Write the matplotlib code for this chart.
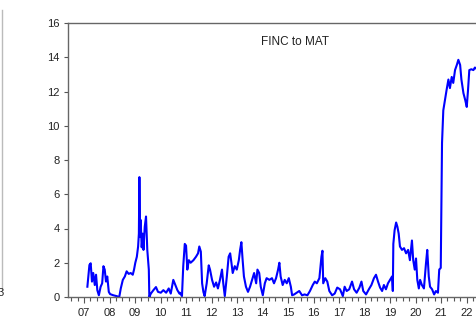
import matplotlib
matplotlib.use("Agg")
import matplotlib.pyplot as plt
from matplotlib.ticker import FixedLocator, MultipleLocator
from matplotlib.lines import Line2D

plt.rcParams['font.family'] = ['Liberation Sans', 'DejaVu Sans']

# Serie FINC -> MAT (fecha en años decimales, valor del índice)
fechas = [
    2007.13, 2007.21, 2007.26, 2007.31, 2007.36, 2007.42, 2007.47, 2007.52, 2007.58, 2007.65,
    2007.71, 2007.76, 2007.81, 2007.86, 2007.91, 2007.97, 2008.02, 2008.15, 2008.28, 2008.38,
    2008.44, 2008.52, 2008.60, 2008.67, 2008.75, 2008.83, 2008.91, 2008.96, 2009.01, 2009.07,
    2009.12, 2009.15, 2009.17, 2009.20, 2009.22, 2009.26, 2009.30, 2009.33, 2009.38, 2009.43,
    2009.48, 2009.54, 2009.56, 2009.62, 2009.72, 2009.82, 2009.90, 2010.01, 2010.11, 2010.22,
    2010.32, 2010.40, 2010.50, 2010.58, 2010.66, 2010.74, 2010.76, 2010.84, 2010.89, 2010.95,
    2011.00, 2011.05, 2011.11, 2011.18, 2011.29, 2011.39, 2011.47, 2011.52, 2011.58, 2011.63,
    2011.68, 2011.73, 2011.81, 2011.89, 2011.94, 2012.02, 2012.10, 2012.18, 2012.25, 2012.33,
    2012.41, 2012.46, 2012.52, 2012.60, 2012.67, 2012.73, 2012.78, 2012.83, 2012.91, 2012.99,
    2013.07, 2013.12, 2013.17, 2013.22, 2013.27, 2013.35, 2013.43, 2013.51, 2013.59, 2013.67,
    2013.75, 2013.80, 2013.87, 2013.93, 2014.01, 2014.09, 2014.16, 2014.27, 2014.37, 2014.45,
    2014.53, 2014.61, 2014.66, 2014.71, 2014.79, 2014.87, 2014.95, 2015.03, 2015.11, 2015.16,
    2015.24, 2015.34, 2015.44, 2015.55, 2015.65, 2015.76, 2015.86, 2015.97, 2016.05, 2016.13,
    2016.23, 2016.31, 2016.35, 2016.38, 2016.46, 2016.54, 2016.62, 2016.73, 2016.83, 2016.93,
    2017.04, 2017.15, 2017.22, 2017.30, 2017.40, 2017.51, 2017.59, 2017.69, 2017.80, 2017.88,
    2017.95, 2018.06, 2018.17, 2018.27, 2018.37, 2018.45, 2018.53, 2018.61, 2018.69, 2018.76,
    2018.84, 2018.92, 2019.00, 2019.08, 2019.11, 2019.13, 2019.18, 2019.24, 2019.29, 2019.34,
    2019.39, 2019.47, 2019.55, 2019.63, 2019.71, 2019.78, 2019.86, 2019.91, 2019.97, 2020.02,
    2020.07, 2020.13, 2020.18, 2020.25, 2020.33, 2020.41, 2020.46, 2020.52, 2020.57, 2020.65,
    2020.73, 2020.80, 2020.88, 2020.93, 2020.99, 2021.01, 2021.04, 2021.09, 2021.22, 2021.29,
    2021.35, 2021.42, 2021.48, 2021.55, 2021.62, 2021.68, 2021.75, 2021.80, 2021.88, 2021.95,
    2022.01, 2022.06, 2022.11, 2022.19, 2022.27, 2022.33, 2022.41,
]
valores = [
    0.6, 1.87, 1.97, 0.9, 1.4, 0.7, 1.3, 0.4, 0.1, 0.6,
    0.8, 1.8, 1.6, 0.9, 1.2, 0.3, 0.17, 0.1, 0.05, 0.0,
    0.5, 1.0, 1.2, 1.5, 1.35, 1.4, 1.3, 1.6, 2.0, 2.35,
    2.95, 3.7, 7.0, 3.5, 4.5, 2.9, 3.7, 2.75, 4.1, 4.7,
    2.75, 1.6, 0.0, 0.2, 0.4, 0.58, 0.3, 0.25, 0.4, 0.25,
    0.5, 0.2, 1.0, 0.7, 0.4, 0.2, 0.25, 0.05, 1.8, 3.1,
    3.0, 1.6, 2.15, 2.0, 2.15, 2.35, 2.55, 2.95, 2.65, 0.8,
    0.3, 0.05, 0.8, 1.85, 1.6, 1.0, 0.6, 0.85, 0.5, 1.0,
    1.6, 0.8, 0.05, 1.2, 2.35, 2.55, 2.0, 1.4, 1.8, 1.6,
    2.15, 2.75, 3.2, 2.15, 1.2, 0.6, 0.3, 0.6, 1.0, 1.4,
    0.8, 1.6, 1.4, 0.6, 0.1, 0.8, 1.1, 1.0, 1.1, 0.8,
    1.1, 1.6, 2.0, 1.2, 0.7, 1.0, 0.8, 1.1, 0.6, 0.1,
    0.15, 0.25, 0.35, 0.1, 0.15, 0.1, 0.35, 0.7, 0.9, 0.8,
    1.1, 2.35, 2.7, 0.8, 1.1, 0.9, 0.35, 0.1, 0.2, 0.55,
    0.45, 0.05, 0.6, 0.35, 0.45, 0.9, 0.45, 0.25, 0.55, 0.9,
    0.35, 0.15, 0.45, 0.7, 1.1, 1.3, 0.9, 0.55, 0.35, 0.7,
    0.45, 0.8, 1.0, 1.2, 0.35, 3.1, 3.9, 4.35, 4.1, 3.7,
    2.95, 2.75, 2.85, 2.55, 2.75, 2.15, 3.3, 2.15, 1.6, 2.25,
    1.0, 0.5, 1.0, 0.7, 0.5, 1.95, 2.75, 1.2, 0.6, 0.45,
    0.15, 0.35, 0.25, 1.6, 1.7, 4.5, 9.0, 10.9, 12.1, 12.7,
    12.2, 12.85, 12.5, 13.25, 13.55, 13.85, 13.55, 12.7, 11.9, 11.5,
    11.1, 12.1, 13.25, 13.3, 13.25, 13.4, 13.3,
]

anios = list(range(2007, 2023))
etiquetas = ['%02d' % (a % 100) for a in anios]

fig = plt.figure(figsize=(4.76, 3.27), dpi=100)
# el panel se sale por la derecha de la figura
ax = fig.add_axes([68 / 476, 30 / 327, 424 / 476, 274 / 327])

ax.plot(fechas, valores, color='#0000ff', linewidth=1.5)

ax.set_xlim(2006.37, 2023.0)
ax.set_ylim(0, 16)
ax.yaxis.set_major_locator(MultipleLocator(2))
ax.xaxis.set_major_locator(FixedLocator(anios))
ax.xaxis.set_minor_locator(MultipleLocator(0.25))
ax.set_xticklabels(etiquetas)

ax.tick_params(axis='both', which='both', direction='out', colors='#555555',
               labelcolor='#222222', labelsize=8, width=0.8)
ax.tick_params(axis='x', which='major', length=4, pad=4)
ax.tick_params(axis='x', which='minor', length=3)
ax.tick_params(axis='y', length=3, pad=3)

for lado in ['left', 'bottom', 'top', 'right']:
    ax.spines[lado].set_color('#666666')
    ax.spines[lado].set_linewidth(1.0)

ax.text(0.535, 0.93, 'FINC to MAT', transform=ax.transAxes, ha='center', va='center',
        fontsize=8.5, color='#222222')

# borde del panel vecino a la izquierda
fig.add_artist(Line2D([2 / 476, 2 / 476], [1 - 10 / 327, 1 - 290 / 327],
                      color='#bbbbbb', linewidth=1.0))
fig.text(1 / 476, 1 - 293 / 327, '3', ha='center', va='center', fontsize=8, color='#222222')

plt.savefig('out.png', dpi=100)
